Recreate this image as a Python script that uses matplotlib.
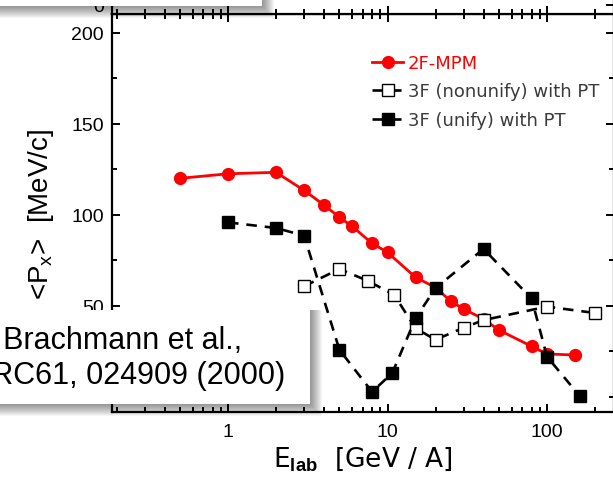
import matplotlib
matplotlib.use("Agg")
import matplotlib.pyplot as plt
from matplotlib.patches import Rectangle
from matplotlib.ticker import LogLocator, MultipleLocator, NullFormatter, FixedLocator

# 2F-MPM
e_mpm = [0.5, 1, 2, 3, 4, 5, 6, 8, 10, 15, 20, 25, 30, 40, 50, 80, 100, 150]
px_mpm = [120, 122.5, 123.3, 113.4, 105.3, 98.6, 93.6, 84.3, 79.3, 65.6, 60, 52.4,
          48.2, 42.7, 36.6, 27.7, 23.5, 22.9]
# 3F (nonunify) with PT
e_non = [3, 5, 7.5, 11, 15, 20, 30, 40, 100, 200]
px_non = [60.7, 70.2, 63.7, 56, 37.6, 31.3, 37.9, 42.1, 49.5, 46]
# 3F (unify) with PT
e_uni = [1, 2, 3, 5, 8, 10.7, 15, 20, 40, 80, 100, 160]
px_uni = [95.8, 92.7, 88.5, 25.7, 2.7, 12.9, 43.1, 59.7, 81.2, 54, 22, 0.5]

labels = ["2F-MPM", "3F (nonunify) with PT", "3F (unify) with PT"]
xticks = [1, 10, 100]
yticks = [50, 100, 150, 200]

W, H = 613, 485
plt.rcParams['font.family'] = ['Liberation Sans', 'DejaVu Sans']
plt.rcParams['mathtext.fontset'] = 'custom'
plt.rcParams['mathtext.rm'] = 'Liberation Sans'
plt.rcParams['mathtext.bf'] = 'Liberation Sans:bold'


def fx(x):
    return x / W


def fy(y):
    return 1 - y / H


fig = plt.figure(figsize=(W / 100, H / 100), dpi=100)

# main panel: pixel frame 112..614 x 15..413
ax = fig.add_axes([fx(112), fy(413), fx(614 - 112), (413 - 15) / H])
ax.set_xscale('log')
ax.set_xlim(10 ** ((112 - 228) / 159.5), 10 ** ((614 - 228) / 159.5))
ax.set_ylim(-8.4, 210.3)

ax.plot(e_mpm, px_mpm, '-o', color='red', lw=2.0, ms=8.5, label=labels[0], zorder=3)
ax.plot(e_non, px_non, 's', color='black', ls=(0, (4, 3)), lw=1.9, ms=8,
        mfc='white', mec='black', mew=1.0, label=labels[1], zorder=4)
ax.plot(e_uni, px_uni, 's', color='black', ls=(0, (4, 3)), lw=1.9, ms=8,
        mfc='black', mec='black', label=labels[2], zorder=5)

ax.xaxis.set_major_locator(FixedLocator(xticks))
ax.set_xticklabels([str(t) for t in xticks])
ax.xaxis.set_minor_locator(LogLocator(base=10, subs=range(2, 10), numticks=20))
ax.xaxis.set_minor_formatter(NullFormatter())
ax.set_yticks(yticks)
ax.yaxis.set_minor_locator(MultipleLocator(25))

ax.tick_params(which='both', direction='in', top=True, right=True, width=1.4,
               labelsize=14)
ax.tick_params(which='major', length=6)
ax.tick_params(which='minor', length=3.5)
ax.tick_params(axis='x', pad=8)
ax.tick_params(axis='y', pad=6)
for s in ax.spines.values():
    s.set_linewidth(1.6)

ax.set_xlabel(r'E$_{\mathbf{lab}}$  [GeV / A]', fontsize=19, family='DejaVu Sans',
              labelpad=3)
ax.set_ylabel(r'<P$_{\mathrm{x}}$>  [MeV/c]', fontsize=20, labelpad=11)

leg = ax.legend(loc='upper left', bbox_to_anchor=(fx(372), fy(55)),
                bbox_transform=fig.transFigure, frameon=False, borderpad=0,
                borderaxespad=0, handlelength=1.72, handletextpad=0.28,
                labelspacing=0.58, prop={'family': 'DejaVu Sans', 'size': 13})
for t, c in zip(leg.get_texts(), ['red', '#3a3a3a', '#3a3a3a']):
    t.set_color(c)

# upper panel (mostly cut off)
ax2 = fig.add_axes([fx(112), fy(15), fx(614 - 112), 0.2])
ax2.set_xscale('log')
ax2.set_xlim(ax.get_xlim())
ax2.set_ylim(-0.93, 9.07)
ax2.xaxis.set_major_locator(FixedLocator(xticks))
ax2.xaxis.set_minor_locator(LogLocator(base=10, subs=range(2, 10), numticks=20))
ax2.xaxis.set_major_formatter(NullFormatter())
ax2.xaxis.set_minor_formatter(NullFormatter())
ax2.set_yticks([0])
ax2.tick_params(which='both', direction='in', right=True, width=1.4, labelsize=14, pad=6)
ax2.tick_params(which='major', length=6)
ax2.tick_params(which='minor', length=3.5)
for s in ax2.spines.values():
    s.set_linewidth(1.6)


def shadow_box(x0, y0, x1, y1):
    for i in range(12, 0, -1):
        fig.add_artist(Rectangle((fx(x0), fy(y1 + i)), fx(x1 + i - x0), (y1 + i - y0) / H,
                                 transform=fig.transFigure, color='black', alpha=0.04,
                                 lw=0, zorder=10))
    fig.add_artist(Rectangle((fx(x0), fy(y1)), fx(x1 - x0), (y1 - y0) / H,
                             transform=fig.transFigure, color='white', lw=0, zorder=11))


shadow_box(-20, -20, 262, 7)
shadow_box(-20, 311, 310, 405)

fig.text(fx(-29), fy(349), 'J. Brachmann et al.,', fontsize=22, va='baseline',
         ha='left', zorder=12)
fig.text(fx(-29), fy(384), 'PRC61, 024909 (2000)', fontsize=22, va='baseline',
         ha='left', zorder=12)

fig.savefig('out.png', dpi=100)
